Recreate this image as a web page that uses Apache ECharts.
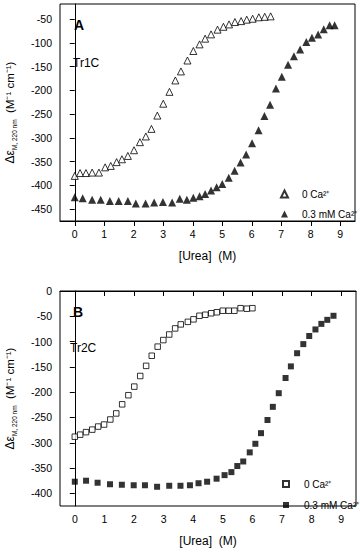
<!DOCTYPE html>
<html>
<head>
<meta charset="utf-8">
<script src="https://cdn.jsdelivr.net/npm/echarts@6/dist/echarts.min.js"></script>
<style>
html,body{margin:0;padding:0;background:#fff;}
#c{width:360px;height:554px;}
</style>
</head>
<body>
<div id="c"></div>
<script>
// ---- Data ----
const xTicks = [0,1,2,3,4,5,6,7,8,9];
const yTicksA = [-450,-400,-350,-300,-250,-200,-150,-100,-50];
const yTicksB = [-400,-350,-300,-250,-200,-150,-100,-50,0];

// Panel A: Tr1C
const a0x = [0,0.18,0.38,0.59,0.82,1.03,1.22,1.42,1.6,1.8,2.01,2.21,2.41,2.6,2.8,3.0,3.21,3.41,3.6,3.82,4.02,4.23,4.42,4.62,4.84,5.04,5.23,5.43,5.64,5.83,6.03,6.24,6.44,6.64];
const a0y = [-380,-374,-374,-373,-373,-362,-359,-351,-345,-338,-326,-309,-297,-281,-253,-228,-203,-179,-160,-137,-117,-103,-91,-82,-72,-66,-61,-56,-54,-51,-49,-46,-45,-44];
const aCx = [0,0.27,0.59,0.88,1.19,1.49,1.8,2.07,2.4,2.69,2.99,3.3,3.56,3.8,4.02,4.23,4.42,4.62,4.81,5.0,5.22,5.42,5.62,5.81,6.01,6.23,6.43,6.62,6.82,7.02,7.23,7.43,7.64,7.85,8.04,8.25,8.44,8.64,8.81];
const aCy = [-425,-427,-430,-430,-433,-433,-433,-438,-438,-436,-435,-436,-428,-430,-426,-423,-418,-411,-404,-397,-384,-369,-352,-335,-311,-284,-254,-230,-196,-171,-146,-128,-114,-98,-89,-82,-71,-63,-63];

// Panel B: Tr2C
const b0x = [0,0.18,0.38,0.59,0.79,0.99,1.2,1.4,1.6,1.81,2.01,2.21,2.41,2.6,2.8,2.99,3.19,3.39,3.58,3.82,4.01,4.21,4.41,4.61,4.8,5.0,5.2,5.39,5.6,5.81,6.0];
const b0y = [-288,-284,-279,-274,-268,-264,-254,-242,-224,-206,-189,-168,-148,-128,-110,-97,-86,-74,-66,-61,-56,-49,-47,-44,-42,-39,-39,-39,-34,-35,-34];
const bCx = [0,0.38,0.77,1.19,1.59,1.99,2.37,2.78,3.19,3.57,3.89,4.18,4.47,4.79,5.06,5.29,5.49,5.69,5.91,6.1,6.29,6.51,6.69,6.89,7.12,7.3,7.51,7.72,7.92,8.13,8.33,8.53,8.74];
const bCy = [-377,-375,-379,-382,-383,-384,-384,-387,-385,-385,-384,-380,-377,-371,-364,-358,-346,-337,-319,-302,-281,-255,-229,-202,-172,-149,-123,-105,-89,-76,-65,-57,-49];

const legendNames = ['0 Ca²⁺', '0.3 mM Ca²⁺'];
const xTitle = '[Urea]  (M)';
const panelLetters = ['A', 'B'];
const panelNames = ['Tr1C', 'Tr2C'];

// ---- Chart ----
const zip = (xs, ys) => xs.map((x, i) => [x, ys[i]]);
const FONT = 'Liberation Sans, Arial, sans-serif';

function xAxis(gi) {
  return {
    type: 'value', gridIndex: gi, min: -0.5, max: 9.5,
    name: xTitle, nameLocation: 'middle', nameGap: 29,
    nameTextStyle: { fontFamily: FONT, fontSize: 12, color: '#000' },
    axisLine: { lineStyle: { color: '#000', width: 1 } },
    axisTick: { show: true, inside: false, length: 5, customValues: xTicks, lineStyle: { color: '#000' } },
    axisLabel: { customValues: xTicks, margin: 7, fontFamily: FONT, fontSize: 10.5, color: '#000' },
    splitLine: { show: false }
  };
}
function yAxis(gi, min, max, ticks) {
  return {
    type: 'value', gridIndex: gi, min: min, max: max,
    name: '{a|Δε}{b|M, 220 nm}{c|  (M⁻¹ cm⁻¹)}',
    nameLocation: 'middle', nameGap: 42,
    nameTextStyle: {
      fontFamily: FONT, color: '#000',
      rich: {
        a: { fontFamily: FONT, fontSize: 12, lineHeight: 16, color: '#000' },
        b: { fontFamily: FONT, fontSize: 6.5, lineHeight: 9, verticalAlign: 'bottom', color: '#000' },
        c: { fontFamily: FONT, fontSize: 11.5, lineHeight: 16, color: '#000' }
      }
    },
    axisLine: { lineStyle: { color: '#000', width: 1 } },
    axisTick: { show: true, inside: false, length: 5, customValues: ticks, lineStyle: { color: '#000' } },
    axisLabel: { customValues: ticks, margin: 8, fontFamily: FONT, fontSize: 10.5, color: '#000' },
    splitLine: { show: false }
  };
}

const openTri = { color: '#fff', borderColor: '#000', borderWidth: 1 };
const fillBlk = { color: '#000', borderColor: '#000', borderWidth: 0 };

const option = {
  backgroundColor: '#fff',
  animation: false,
  grid: [
    { left: 60, top: 4, width: 295, height: 217, outerBoundsMode: 'none', containLabel: false, show: true, borderColor: '#000', borderWidth: 1, backgroundColor: 'transparent' },
    { left: 60, top: 291, width: 296, height: 215, outerBoundsMode: 'none', containLabel: false, show: true, borderColor: '#000', borderWidth: 1, backgroundColor: 'transparent' }
  ],
  xAxis: [xAxis(0), xAxis(1)],
  yAxis: [yAxis(0, -475, -18, yTicksA), yAxis(1, -425, 0, yTicksB)],
  legend: [
    {
      data: [legendNames[0], legendNames[1]],
      orient: 'vertical', left: 275, top: 184, itemWidth: 7, itemHeight: 7, itemGap: 10,
      textStyle: { fontFamily: FONT, fontSize: 10, color: '#000', padding: [0, 0, 0, 9] },
      selectedMode: false
    },
    {
      data: [legendNames[0] + ' ', legendNames[1] + ' '],
      formatter: n => n.trim(),
      orient: 'vertical', left: 277, top: 474, itemWidth: 6, itemHeight: 6, itemGap: 11,
      textStyle: { fontFamily: FONT, fontSize: 10, color: '#000', padding: [0, 0, 0, 10] },
      selectedMode: false
    }
  ],
  graphic: [
    { type: 'text', left: 74, top: 18, style: { text: panelLetters[0], font: 'bold 14px ' + FONT, fill: '#000' } },
    { type: 'text', left: 73, top: 57, style: { text: panelNames[0], font: '12px ' + FONT, fill: '#000' } },
    { type: 'text', left: 73, top: 305, style: { text: panelLetters[1], font: 'bold 14px ' + FONT, fill: '#000' } },
    { type: 'text', left: 70, top: 342, style: { text: panelNames[1], font: '12px ' + FONT, fill: '#000' } }
  ],
  series: [
    { name: legendNames[0], type: 'scatter', xAxisIndex: 0, yAxisIndex: 0, symbol: 'triangle', symbolSize: 7, itemStyle: openTri, data: zip(a0x, a0y) },
    { name: legendNames[1], type: 'scatter', xAxisIndex: 0, yAxisIndex: 0, symbol: 'triangle', symbolSize: 8, itemStyle: fillBlk, data: zip(aCx, aCy) },
    { name: legendNames[0] + ' ', type: 'scatter', xAxisIndex: 1, yAxisIndex: 1, symbol: 'rect', symbolSize: 5.5, itemStyle: openTri, data: zip(b0x, b0y) },
    { name: legendNames[1] + ' ', type: 'scatter', xAxisIndex: 1, yAxisIndex: 1, symbol: 'rect', symbolSize: 6, itemStyle: fillBlk, data: zip(bCx, bCy) }
  ]
};

const chart = echarts.init(document.getElementById('c'), null, { renderer: 'svg' });
chart.setOption(option);
</script>
</body>
</html>
